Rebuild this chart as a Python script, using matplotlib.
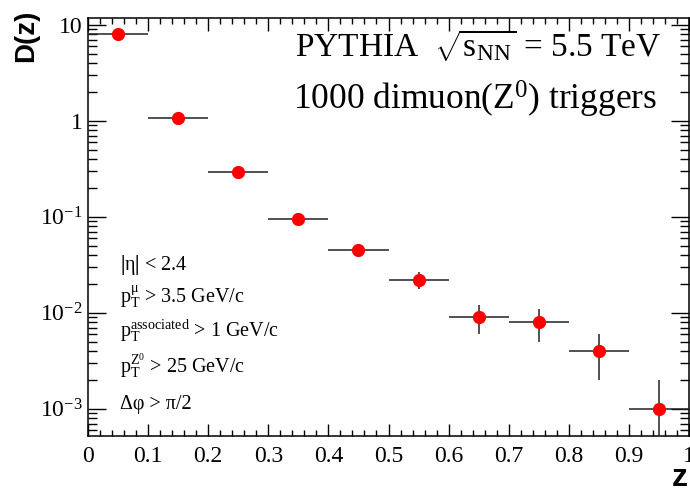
import matplotlib
matplotlib.use("Agg")
import matplotlib.pyplot as plt
import numpy as np
from matplotlib.ticker import LogLocator, MultipleLocator, NullFormatter

plt.rcParams['mathtext.fontset'] = 'custom'
plt.rcParams['mathtext.rm'] = 'Liberation Serif'
plt.rcParams['mathtext.it'] = 'Liberation Serif:italic'
plt.rcParams['mathtext.bf'] = 'Liberation Serif:bold'
plt.rcParams['font.family'] = 'Liberation Serif'

# data
z = [0.05, 0.15, 0.25, 0.35, 0.45, 0.55, 0.65, 0.75, 0.85, 0.95]
dz = [8.0, 1.08, 0.295, 0.096, 0.045, 0.022, 0.009, 0.008, 0.004, 0.001]
dz_err = [0.25, 0.05, 0.015, 0.006, 0.004, 0.0045, 0.003, 0.003, 0.002, 0.001]
z_err = [0.05] * 10

ytick_vals = [1e-3, 1e-2, 1e-1, 1, 10]
ytick_labels = [r'$10^{-3}$', r'$10^{-2}$', r'$10^{-1}$', '1', '10']

fig = plt.figure(figsize=(6.9, 4.95), dpi=100)
ax = fig.add_axes([88/690, 59/495, 601/690, 418/495])

ax.errorbar(z, dz, xerr=z_err, yerr=dz_err, fmt='o', color='red',
            markersize=8.5, ecolor='#222222', elinewidth=1.1, capsize=0, zorder=3)

ax.set_yscale('log')
ax.set_xlim(0, 1)
ax.set_ylim(5.2e-4, 11.8)

ax.set_yticks(ytick_vals)
ax.set_yticklabels(ytick_labels)
ax.yaxis.set_minor_locator(LogLocator(base=10, subs=np.arange(2, 10)))
ax.yaxis.set_minor_formatter(NullFormatter())
ax.xaxis.set_minor_locator(MultipleLocator(0.02))
ax.set_xticks(np.arange(0, 1.01, 0.1))
ax.set_xticklabels(['0', '0.1', '0.2', '0.3', '0.4', '0.5', '0.6', '0.7', '0.8', '0.9', '1'])

ax.tick_params(axis='both', which='both', direction='in', top=True, right=True,
               width=1.0, labelsize=17)
ax.tick_params(axis='x', which='major', length=9, pad=7)
ax.tick_params(axis='x', which='minor', length=4.5)
ax.tick_params(axis='y', which='major', length=13, pad=4)
ax.tick_params(axis='y', which='minor', length=6.5)
for s in ax.spines.values():
    s.set_linewidth(1.1)

fig.text(26/690, 1 - 36/495, 'D(z)', rotation=90, ha='center', va='center',
         fontsize=20, fontweight='bold', family='Liberation Sans')
fig.text(680/690, 1 - 478/495, 'z', ha='center', va='center',
         fontsize=23, fontweight='bold', family='Liberation Sans')

ax.text(0.955, 0.935, r'PYTHIA  $\sqrt{\mathrm{s}_{\mathrm{NN}}}$ = 5.5 TeV', transform=ax.transAxes,
        ha='right', va='center', fontsize=24)
ax.text(0.947, 0.805, r'1000 dimuon(Z$^{0}$) triggers', transform=ax.transAxes,
        ha='right', va='center', fontsize=25.5)

labels = [r'$\mathbf{|}$η$\mathbf{|}$ < 2.4',
          r'$\mathrm{p}_{\mathrm{T}}^{\mathrm{μ}}$ > 3.5 GeV/c',
          r'$\mathrm{p}_{\mathrm{T}}^{\mathrm{associated}}$ > 1 GeV/c',
          r'$\mathrm{p}_{\mathrm{T}}^{\mathrm{Z}^{0}}$ > 25 GeV/c',
          r'Δφ > π/2']
ys = [265, 297, 331, 366, 405]
for lab, yy in zip(labels, ys):
    fig.text(120/690, 1 - yy/495, lab, ha='left', va='center', fontsize=14.5)

fig.savefig('out.png', dpi=100)
